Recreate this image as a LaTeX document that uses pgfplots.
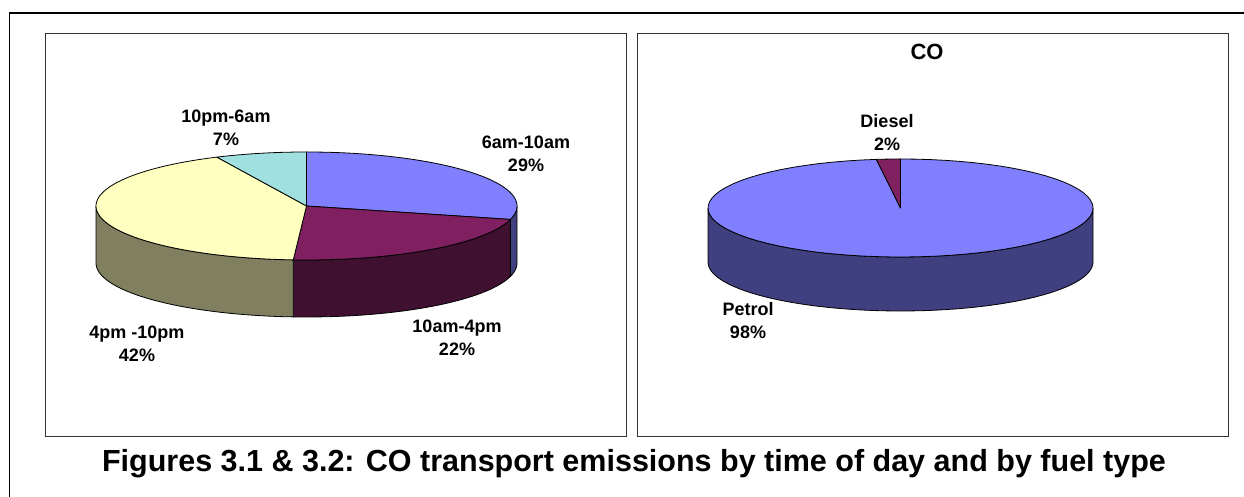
\documentclass[border=0pt]{standalone}
\usepackage{pgfplots}
\pgfplotsset{compat=1.18}
\usepackage{pgfplotstable}
\usepgfplotslibrary{fillbetween}
\usepackage{fontspec}
\setmainfont{Liberation Sans}

\definecolor{pblue}{HTML}{8080FF}
\definecolor{pblueside}{HTML}{404080}
\definecolor{pplum}{HTML}{802060}
\definecolor{pplumside}{HTML}{401030}
\definecolor{pcream}{HTML}{FFFFC0}
\definecolor{pcreamside}{HTML}{808060}
\definecolor{pcyan}{HTML}{A0E0E0}

% CO emissions by time of day (per cent)
\pgfplotstableread{
period share
6am-10am 29
10am-4pm 22
4pm-10pm 42
10pm-6am 7
}\timetable

% CO emissions by fuel type (per cent)
\pgfplotstableread{
fuel share
Petrol 98
Diesel 2
}\fueltable

% cumulative slice angles, clockwise from twelve o'clock
\pgfplotstablegetelem{0}{share}\of\timetable \pgfmathsetmacro\tA{3.6*\pgfplotsretval}
\pgfplotstablegetelem{1}{share}\of\timetable \pgfmathsetmacro\tB{\tA+3.6*\pgfplotsretval}
\pgfplotstablegetelem{2}{share}\of\timetable \pgfmathsetmacro\tC{\tB+3.6*\pgfplotsretval}
\pgfplotstablegetelem{0}{share}\of\fueltable \pgfmathsetmacro\fA{3.6*\pgfplotsretval}

% top face of a slice: cx, cy, rx, ry, start, end, colour
\newcommand{\pietop}[7]{%
  \addplot[fill=#7, draw=black, line width=0.8pt, line join=round,
    domain=#5:#6, samples=80, variable=\t]
    ({#1+#3*sin(\t)},{#2-#4*cos(\t)}) -- (#1,#2) -- cycle;}

% outer wall of a slice: cx, cy, rx, ry, depth, start, end, colour, name
\newcommand{\pieside}[9]{%
  \addplot[draw=none, name path=#9top, domain=#6:#7, samples=60, variable=\t]
    ({#1+#3*sin(\t)},{#2-#4*cos(\t)});
  \addplot[draw=none, name path=#9bot, domain=#6:#7, samples=60, variable=\t]
    ({#1+#3*sin(\t)},{#2+#5-#4*cos(\t)});
  \addplot[fill=#8, draw=black, line width=0.8pt, line join=round]
    fill between[of=#9top and #9bot];}

\begin{document}
\begin{tikzpicture}
\begin{axis}[
  width=1244pt, height=497pt, scale only axis,
  xmin=0, xmax=1244, ymin=0, ymax=497, y dir=reverse,
  hide axis,
]
% frames
\draw[line width=1.6pt, black] (9.5,497) -- (9.5,13) -- (1244,13);
\draw[line width=1pt, black!80] (45,33.5) rectangle (626.5,437);
\draw[line width=1pt, black!80] (637,33.5) rectangle (1228,437);

% time of day pie
\pieside{306.5}{206}{210.5}{54}{57}{90}{\tA}{pblueside}{la}
\pieside{306.5}{206}{210.5}{54}{57}{\tA}{\tB}{pplumside}{lb}
\pieside{306.5}{206}{210.5}{54}{57}{\tB}{270}{pcreamside}{lc}
\pietop{306.5}{206}{210.5}{54}{0}{\tA}{pblue}
\pietop{306.5}{206}{210.5}{54}{\tA}{\tB}{pplum}
\pietop{306.5}{206}{210.5}{54}{\tB}{\tC}{pcream}
\pietop{306.5}{206}{210.5}{54}{\tC}{360}{pcyan}

% fuel type pie
\pieside{900.5}{208}{192.5}{49}{54}{90}{270}{pblueside}{ra}
\pietop{900.5}{208}{192.5}{49}{0}{\fA}{pblue}
\pietop{900.5}{208}{192.5}{49}{\fA}{360}{pplum}

% labels
\begin{scope}[every node/.style={font=\fontsize{18}{23}\selectfont\bfseries, align=center}]
\node at (526,154) {6am-10am\\29\%};
\node at (457,338) {10am-4pm\\22\%};
\node at (137,344) {4pm -10pm\\42\%};
\node at (226,128) {10pm-6am\\7\%};
\node at (887,133) {Diesel\\2\%};
\node at (748,321) {Petrol\\98\%};
\end{scope}
\node[font=\fontsize{22}{26}\selectfont\bfseries] at (927,52) {CO};
\node[font=\fontsize{30.5}{34}\selectfont\bfseries] at (634,464)
  {Figures 3.1 \& 3.2: CO transport emissions by time of day and by fuel type};
\end{axis}
\pgfresetboundingbox
\path (current axis.south west) rectangle (current axis.north east);
\end{tikzpicture}
\end{document}
